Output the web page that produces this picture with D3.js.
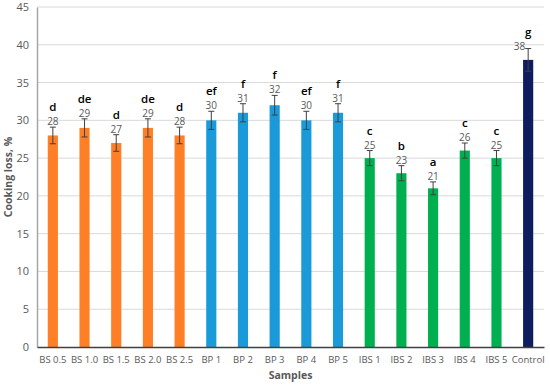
<!DOCTYPE html>
<html>
<head>
<meta charset="utf-8">
<script src="https://cdn.jsdelivr.net/npm/d3@7"></script>
<style>
  body { margin: 0; background: #fff; }
  text { font-family: "Open Sans", "Liberation Sans", sans-serif; }
</style>
</head>
<body>
<div id="chart"></div>
<script>
// chart data
var samples = ["BS 0.5", "BS 1.0", "BS 1.5", "BS 2.0", "BS 2.5",
  "BP 1", "BP 2", "BP 3", "BP 4", "BP 5",
  "IBS 1", "IBS 2", "IBS 3", "IBS 4", "IBS 5", "Control"];
var values = [28, 29, 27, 29, 28, 30, 31, 32, 30, 31, 25, 23, 21, 26, 25, 38];
var errors = [1.1, 1.2, 1.1, 1.2, 1.1, 1.2, 1.2, 1.3, 1.2, 1.2, 1.0, 1.0, 0.85, 1.0, 1.0, 1.5];
var letters = ["d", "de", "d", "de", "d", "ef", "f", "f", "ef", "f", "c", "b", "a", "c", "c", "g"];
var groups = ["BS", "BS", "BS", "BS", "BS", "BP", "BP", "BP", "BP", "BP",
  "IBS", "IBS", "IBS", "IBS", "IBS", "Control"];
var yTicks = [0, 5, 10, 15, 20, 25, 30, 35, 40, 45];

var groupColor = {
  BS: "#FF7F27",
  BP: "#1A9AD8",
  IBS: "#00B050",
  Control: "#0E1D5E"
};

let width = 550;
let height = 385;
var margin = {top: 7, right: 6, bottom: 38, left: 37};

var svg = d3.select("#chart")
  .append("svg")
    .attr("width", width)
    .attr("height", height);

var x = d3.scaleBand()
  .domain(samples)
  .range([margin.left, width - margin.right])
  .paddingInner(0.68)
  .paddingOuter(0.34);

var y = d3.scaleLinear()
  .domain([0, 45])
  .range([height - margin.bottom, margin.top]);

function cx(i) {
  return x(samples[i]) + x.bandwidth() / 2;
}

// the control label sits beside its error bar, near the top of the plot
function isControl(i) {
  return groups[i] == "Control";
}

// gridlines
svg.append("g")
  .selectAll("line")
  .data(yTicks.slice(1))
  .join("line")
    .attr("x1", margin.left)
    .attr("x2", width - margin.right)
    .attr("y1", function (d) { return y(d); })
    .attr("y2", function (d) { return y(d); })
    .attr("stroke", "#d9d9d9")
    .attr("stroke-width", 1);

// y axis
var yAxis = svg.append("g")
  .attr("transform", "translate(" + margin.left + ",0)")
  .call(d3.axisLeft(y).tickValues(yTicks).tickSize(0).tickPadding(8));
yAxis.select(".domain").attr("stroke", "#a6a6a6").attr("stroke-width", 1.5);
yAxis.selectAll("text")
  .attr("fill", "#595959")
  .style("font-size", "11px");

// bars
svg.append("g")
  .selectAll("rect")
  .data(values)
  .join("rect")
    .attr("x", function (d, i) { return x(samples[i]); })
    .attr("y", function (d) { return y(d); })
    .attr("width", x.bandwidth())
    .attr("height", function (d) { return y(0) - y(d); })
    .attr("fill", function (d, i) { return groupColor[groups[i]]; });

// error bars
var err = svg.append("g")
  .attr("stroke", "#404040")
  .attr("stroke-width", 1);
values.forEach(function (v, i) {
  var c = cx(i);
  var top = y(v + errors[i]);
  var bot = y(v - errors[i]);
  err.append("line").attr("x1", c).attr("x2", c).attr("y1", top).attr("y2", bot);
  err.append("line").attr("x1", c - 3).attr("x2", c + 3).attr("y1", top).attr("y2", top);
  err.append("line").attr("x1", c - 3).attr("x2", c + 3).attr("y1", bot).attr("y2", bot);
});

// x axis
var xAxis = svg.append("g")
  .attr("transform", "translate(0," + y(0) + ")")
  .call(d3.axisBottom(x).tickSize(0).tickPadding(9));
xAxis.select(".domain").attr("stroke", "#404040").attr("stroke-width", 1.5);
xAxis.selectAll("text")
  .attr("fill", "#595959")
  .style("font-size", "9.5px");

// value labels
svg.append("g")
  .selectAll("text")
  .data(values)
  .join("text")
    .attr("x", function (d, i) { return isControl(i) ? cx(i) - 3 : cx(i); })
    .attr("y", function (d, i) { return y(d + errors[i]) + (isControl(i) ? 1 : -2); })
    .attr("text-anchor", function (d, i) { return isControl(i) ? "end" : "middle"; })
    .attr("fill", "#595959")
    .style("font-size", "10px")
    .text(function (d) { return d; });

// significance letters
svg.append("g")
  .selectAll("text")
  .data(letters)
  .join("text")
    .attr("x", function (d, i) { return cx(i); })
    .attr("y", function (d, i) { return y(values[i] + errors[i]) - (isControl(i) ? 13 : 16); })
    .attr("text-anchor", "middle")
    .attr("fill", "#000")
    .style("font-size", "11.5px")
    .style("font-weight", "600")
    .text(function (d) { return d; });

// axis titles
svg.append("text")
  .attr("transform", "translate(12," + (y(0) + y(45)) / 2 + ") rotate(-90)")
  .attr("text-anchor", "middle")
  .attr("fill", "#595959")
  .style("font-size", "10.5px")
  .style("font-weight", "bold")
  .text("Cooking loss, %");

svg.append("text")
  .attr("x", (margin.left + width - margin.right) / 2)
  .attr("y", 379)
  .attr("text-anchor", "middle")
  .attr("fill", "#595959")
  .style("font-size", "10.5px")
  .style("font-weight", "bold")
  .text("Samples");
</script>
</body>
</html>
